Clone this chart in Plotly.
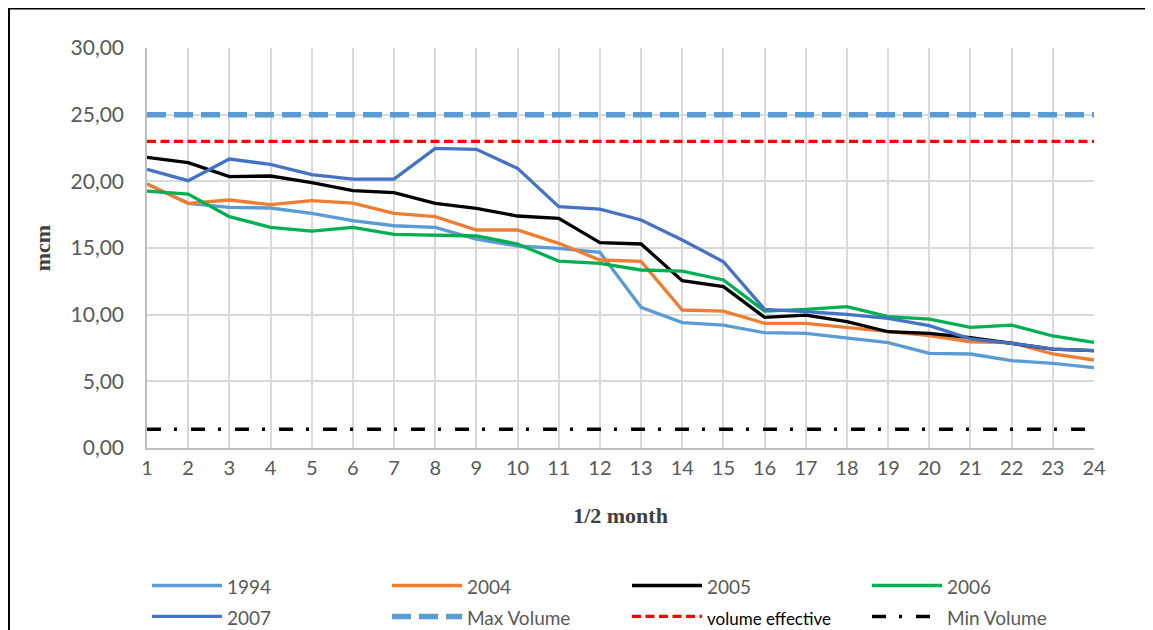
import plotly.graph_objects as go

periods = list(range(1, 25))

v1994 = [19.8, 18.35, 18.05, 18.0, 17.6, 17.05, 16.67, 16.55, 15.67, 15.15, 14.97, 14.67,
         10.55, 9.4, 9.22, 8.65, 8.6, 8.27, 7.9, 7.1, 7.05, 6.55, 6.35, 6.02]
v2004 = [19.8, 18.35, 18.6, 18.25, 18.55, 18.37, 17.6, 17.35, 16.35, 16.35, 15.35, 14.1,
         14.0, 10.35, 10.27, 9.35, 9.35, 9.05, 8.72, 8.42, 7.97, 7.9, 7.05, 6.6]
v2005 = [21.8, 21.4, 20.35, 20.4, 19.9, 19.3, 19.15, 18.35, 17.97, 17.4, 17.22, 15.4,
         15.3, 12.55, 12.1, 9.8, 9.97, 9.47, 8.72, 8.6, 8.27, 7.85, 7.42, 7.3]
v2006 = [19.27, 19.05, 17.35, 16.55, 16.27, 16.55, 16.02, 15.95, 15.9, 15.3, 14.02, 13.85,
         13.35, 13.27, 12.6, 10.27, 10.4, 10.6, 9.85, 9.67, 9.05, 9.22, 8.4, 7.92]
v2007 = [20.9, 20.05, 21.67, 21.27, 20.5, 20.17, 20.17, 22.47, 22.4, 20.97, 18.1, 17.92,
         17.1, 15.6, 13.97, 10.4, 10.23, 10.02, 9.72, 9.18, 8.18, 7.85, 7.42, 7.3]
max_volume = 25.0
volume_effective = 23.0
min_volume = 1.4

y_ticks = [0, 5, 10, 15, 20, 25, 30]

# page has an 8px body margin; figure geometry compensates so the plot area
# lands at screen x 147..1094, y 48..448
W, H = 1153, 630
OFF = 8
L, T = 147 - OFF, 48 - OFF
R = W + OFF - 1094
B = H + OFF - 448
pw, ph = W - L - R, H - T - B

def leg(text, size=19, color=None):
    style = "font-size:%dpx" % size
    if color:
        style += ";color:%s" % color
    return "<span style='%s'>%s</span>" % (style, text)

fig = go.Figure()
series = [
    ("1994", v1994, "#5B9BD5"),
    ("2004", v2004, "#ED7D31"),
    ("2005", v2005, "#000000"),
    ("2006", v2006, "#00B050"),
    ("2007", v2007, "#4472C4"),
]
for name, vals, col in series:
    fig.add_trace(go.Scatter(x=periods, y=vals, mode="lines", name=leg(name),
                             line=dict(color=col, width=3.3)))

fig.add_trace(go.Scatter(x=periods, y=[max_volume] * len(periods), mode="lines",
                         name=leg("Max Volume"),
                         line=dict(color="#5B9BD5", width=5.5, dash="19px,8px")))
fig.add_trace(go.Scatter(x=periods, y=[volume_effective] * len(periods), mode="lines",
                         name=leg("volume effective", 17, "#000000"),
                         line=dict(color="#FF0000", width=3.3, dash="9px,4.5px")))
fig.add_trace(go.Scatter(x=periods, y=[min_volume] * len(periods), mode="lines",
                         name=leg("Min Volume"),
                         line=dict(color="#000000", width=3.5, dash="14px,13px,3px,14px")))

# outer border (only top and left edges are visible in the frame)
fig.add_shape(type="rect", xref="paper", yref="paper",
              x0=(1 - L) / pw, x1=(1300 - L) / pw,
              y0=(T + ph - 800) / ph, y1=(T + ph - 0.5) / ph,
              line=dict(color="#000000", width=2), layer="below")

fig.update_layout(
    width=W, height=H,
    margin=dict(l=L, r=R, t=T, b=B, autoexpand=False),
    paper_bgcolor="white", plot_bgcolor="white",
    separators=",.",
    font=dict(family="Lato", size=21, color="#595959"),
    showlegend=True,
    legend=dict(orientation="h", xref="paper", yref="paper",
                x=-0.00001, xanchor="left",
                y=(448 - 565) / ph, yanchor="top",
                entrywidth=155, itemwidth=70, font=dict(family="Lato", size=21.5, color="#595959"),
                traceorder="normal", tracegroupgap=0, bgcolor="rgba(0,0,0,0)"),
    xaxis=dict(range=[1, 24], tickmode="array", tickvals=periods, ticktext=[str(p) for p in periods],
               showgrid=True, gridcolor="#D9D9D9", gridwidth=1.5,
               showline=True, linecolor="#BFBFBF", linewidth=1.5, mirror=False,
               zeroline=False, ticks="", ticklen=0, ticklabelstandoff=1,
               tickfont=dict(family="Lato", size=20, color="#595959"),
               title=dict(text="<b>1/2 month</b>", font=dict(family="Liberation Serif", size=22, color="#404040"),
                          standoff=30)),
    yaxis=dict(range=[0, 30], tickmode="array", tickvals=y_ticks, tickformat=".2f",
               showgrid=True, gridcolor="#D9D9D9", gridwidth=1.5,
               showline=True, linecolor="#BFBFBF", linewidth=1.5,
               zeroline=False, ticks="", ticklen=0, ticklabelstandoff=17,
               tickfont=dict(family="Lato", size=21, color="#595959"),
               title=dict(text="<b>mcm</b>", font=dict(family="Liberation Serif", size=22, color="#404040"),
                          standoff=14)),
)

fig.write_html("out.html")
